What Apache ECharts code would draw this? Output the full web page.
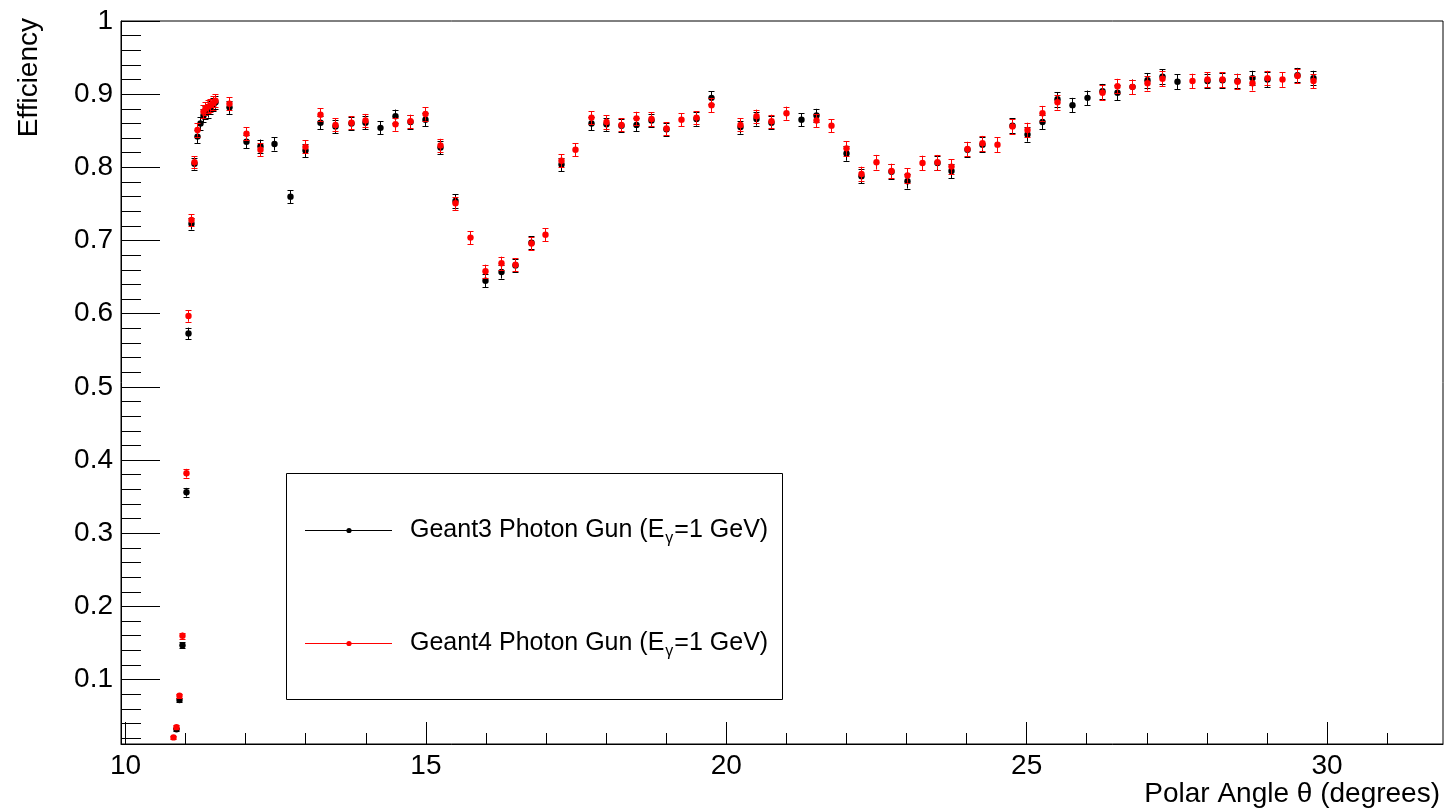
<!DOCTYPE html>
<html>
<head>
<meta charset="utf-8">
<title>Efficiency vs polar angle</title>
<script src="https://cdn.jsdelivr.net/npm/echarts@6.0.0/dist/echarts.min.js"></script>
<style>
  html, body { margin: 0; padding: 0; background: #fff; }
  #chart { width: 1449px; height: 812px; }
</style>
</head>
<body>
<div id="chart"></div>
<script>
// Geant3 photon gun (black)
var g3Theta = [10.84, 10.89, 10.94, 11.0, 11.04, 11.09, 11.14, 11.19, 11.24, 11.29,
    11.33, 11.37, 11.41, 11.45, 11.49, 11.73, 12.0, 12.24, 12.48, 12.74,
    12.98, 13.24, 13.49, 13.75, 13.99, 14.24, 14.49, 14.74, 14.99, 15.24,
    15.49, 15.99, 16.25, 16.49, 16.75, 17.25, 17.75, 18.0, 18.25, 18.5,
    18.75, 18.99, 19.49, 19.74, 20.23, 20.5, 20.74, 21.24, 21.5, 22.0,
    22.24, 22.75, 23.0, 23.5, 23.74, 24.0, 24.25, 24.75, 25.0, 25.25,
    25.5, 25.75, 26.0, 26.25, 26.5, 26.75, 27.0, 27.25, 27.5, 28.0,
    28.25, 28.5, 28.75, 29.0, 29.5, 29.76];
var g3Eff = [0.032, 0.072, 0.147, 0.356, 0.573, 0.723, 0.805, 0.842, 0.860, 0.871,
    0.875, 0.877, 0.882, 0.886, 0.889, 0.882, 0.835, 0.829, 0.832, 0.760,
    0.823, 0.861, 0.856, 0.860, 0.861, 0.854, 0.870, 0.862, 0.865, 0.827,
    0.754, 0.645, 0.657, 0.666, 0.697, 0.804, 0.860, 0.859, 0.857, 0.858,
    0.864, 0.852, 0.866, 0.895, 0.855, 0.866, 0.861, 0.865, 0.871, 0.819,
    0.788, 0.794, 0.781, 0.806, 0.795, 0.824, 0.831, 0.857, 0.845, 0.862,
    0.893, 0.885, 0.895, 0.904, 0.902, 0.910, 0.919, 0.924, 0.917, 0.918,
    0.919, 0.918, 0.922, 0.920, 0.926, 0.922];
var g3Err = [0.002, 0.003, 0.004, 0.006, 0.008, 0.008, 0.008, 0.009, 0.009, 0.009,
    0.009, 0.009, 0.009, 0.009, 0.009, 0.009, 0.009, 0.009, 0.009, 0.009,
    0.009, 0.009, 0.009, 0.009, 0.009, 0.009, 0.009, 0.009, 0.009, 0.009,
    0.009, 0.009, 0.009, 0.009, 0.009, 0.009, 0.009, 0.009, 0.009, 0.009,
    0.009, 0.009, 0.009, 0.009, 0.009, 0.009, 0.009, 0.009, 0.009, 0.010,
    0.010, 0.010, 0.010, 0.010, 0.010, 0.010, 0.010, 0.010, 0.010, 0.010,
    0.010, 0.010, 0.010, 0.010, 0.010, 0.010, 0.010, 0.010, 0.010, 0.010,
    0.010, 0.010, 0.010, 0.010, 0.010, 0.010];

// Geant4 photon gun (red)
var g4Theta = [10.79, 10.84, 10.89, 10.94, 11.0, 11.04, 11.09, 11.14, 11.19, 11.29,
    11.33, 11.37, 11.41, 11.45, 11.49, 11.73, 12.0, 12.24, 12.98, 13.24,
    13.49, 13.75, 13.99, 14.49, 14.74, 14.99, 15.24, 15.49, 15.74, 15.99,
    16.25, 16.49, 16.75, 16.99, 17.25, 17.49, 17.75, 18.0, 18.25, 18.5,
    18.75, 18.99, 19.25, 19.49, 19.74, 20.23, 20.5, 20.74, 21.0, 21.5,
    21.74, 22.0, 22.24, 22.5, 22.75, 23.0, 23.25, 23.5, 23.74, 24.0,
    24.25, 24.5, 24.75, 25.0, 25.25, 25.5, 26.25, 26.5, 26.75, 27.0,
    27.25, 27.75, 28.0, 28.25, 28.5, 28.75, 29.0, 29.25, 29.5, 29.76];
var g4Eff = [0.021, 0.035, 0.078, 0.160, 0.382, 0.597, 0.728, 0.807, 0.851, 0.876,
    0.880, 0.883, 0.885, 0.888, 0.891, 0.887, 0.846, 0.824, 0.828, 0.872,
    0.858, 0.861, 0.864, 0.859, 0.863, 0.873, 0.830, 0.751, 0.704, 0.658,
    0.669, 0.667, 0.696, 0.708, 0.809, 0.824, 0.868, 0.862, 0.858, 0.867,
    0.866, 0.853, 0.865, 0.868, 0.885, 0.858, 0.870, 0.863, 0.874, 0.864,
    0.857, 0.826, 0.791, 0.807, 0.795, 0.789, 0.806, 0.807, 0.801, 0.825,
    0.833, 0.831, 0.856, 0.851, 0.874, 0.889, 0.902, 0.911, 0.910, 0.915,
    0.921, 0.918, 0.920, 0.920, 0.917, 0.915, 0.922, 0.920, 0.925, 0.918];
var g4Err = [0.002, 0.003, 0.003, 0.004, 0.006, 0.008, 0.008, 0.008, 0.009, 0.009,
    0.009, 0.009, 0.009, 0.009, 0.009, 0.009, 0.009, 0.009, 0.009, 0.009,
    0.009, 0.009, 0.009, 0.009, 0.009, 0.009, 0.009, 0.009, 0.009, 0.009,
    0.009, 0.009, 0.009, 0.009, 0.009, 0.009, 0.009, 0.009, 0.009, 0.009,
    0.009, 0.009, 0.009, 0.009, 0.010, 0.009, 0.009, 0.009, 0.009, 0.009,
    0.009, 0.010, 0.010, 0.010, 0.010, 0.010, 0.010, 0.010, 0.010, 0.010,
    0.010, 0.010, 0.010, 0.010, 0.010, 0.010, 0.010, 0.010, 0.010, 0.010,
    0.010, 0.010, 0.010, 0.010, 0.010, 0.010, 0.010, 0.010, 0.010, 0.010];

// axis ticks
var xMajor = [10, 15, 20, 25, 30];
var xMinor = [10, 11, 12, 13, 14, 15, 16, 17, 18, 19, 20, 21, 22, 23, 24, 25, 26, 27, 28, 29, 30, 31];
var yMajor = [0.1, 0.2, 0.3, 0.4, 0.5, 0.6, 0.7, 0.8, 0.9, 1];
var yMinor = [0.02, 0.04, 0.06, 0.08, 0.12, 0.14, 0.16, 0.18, 0.22, 0.24, 0.26, 0.28,
    0.32, 0.34, 0.36, 0.38, 0.42, 0.44, 0.46, 0.48, 0.52, 0.54, 0.56, 0.58,
    0.62, 0.64, 0.66, 0.68, 0.72, 0.74, 0.76, 0.78, 0.82, 0.84, 0.86, 0.88,
    0.92, 0.94, 0.96, 0.98];

var FONT = '"Liberation Sans", Arial, Helvetica, sans-serif';
var xMin = 9.925, xMax = 31.93, yMin = 0.012, yMax = 1;

var chart = echarts.init(document.getElementById('chart'));

function errorSeries(name, xs, ys, es, color) {
    var data = xs.map(function (x, i) { return [x, ys[i], es[i]]; });
    return {
        name: name,
        type: 'custom',
        data: data,
        encode: { x: 0, y: 1 },
        renderItem: function (params, api) {
            var x = api.value(0), y = api.value(1), e = api.value(2);
            var c = api.coord([x, y]);
            var hi = api.coord([x, y + e]);
            var lo = api.coord([x, y - e]);
            var px = Math.round(c[0]) + 0.5;
            var st = { stroke: color, lineWidth: 1 };
            return {
                type: 'group',
                children: [
                    { type: 'line', shape: { x1: px, y1: hi[1], x2: px, y2: lo[1] }, style: st },
                    { type: 'line', shape: { x1: px - 3, y1: Math.round(hi[1]) + 0.5, x2: px + 3, y2: Math.round(hi[1]) + 0.5 }, style: st },
                    { type: 'line', shape: { x1: px - 3, y1: Math.round(lo[1]) + 0.5, x2: px + 3, y2: Math.round(lo[1]) + 0.5 }, style: st },
                    { type: 'circle', shape: { cx: px, cy: c[1], r: 3.2 }, style: { fill: color } }
                ]
            };
        }
    };
}

// legend text pieces are placed by measured widths (subscript gamma)
var mctx = document.createElement('canvas').getContext('2d');
function textWidth(s, size) {
    mctx.font = size + 'px ' + FONT;
    return mctx.measureText(s).width;
}
function legendRow(y, color, head) {
    var x0 = 410;
    var w1 = textWidth(head, 25);
    var xg = x0 + w1 + 1;
    var wg = textWidth('γ', 16);
    return [
        { type: 'line', z: 101, shape: { x1: 305, y1: y + 0.5, x2: 392, y2: y + 0.5 }, style: { stroke: color, lineWidth: 1 } },
        { type: 'circle', z: 102, shape: { cx: 349, cy: y + 0.5, r: 2.6 }, style: { fill: color } },
        { type: 'text', z: 102, x: x0, y: y, style: { text: head, font: '25px ' + FONT, fill: '#000', align: 'left', verticalAlign: 'middle' } },
        { type: 'text', z: 102, x: xg, y: y + 9, style: { text: 'γ', font: '16px ' + FONT, fill: '#000', align: 'left', verticalAlign: 'middle' } },
        { type: 'text', z: 102, x: xg + wg + 1, y: y, style: { text: '=1 GeV)', font: '25px ' + FONT, fill: '#000', align: 'left', verticalAlign: 'middle' } }
    ];
}

var graphics = [
    { type: 'rect', z: 100, shape: { x: 286.5, y: 473.5, width: 496, height: 226 }, style: { fill: '#fff', stroke: '#000', lineWidth: 1 } }
].concat(legendRow(530, '#000', 'Geant3 Photon Gun (E'))
 .concat(legendRow(643, '#ff0000', 'Geant4 Photon Gun (E'))
 .concat([
    { type: 'text', z: 102, x: 1440, y: 808, style: { text: 'Polar Angle θ (degrees)', font: '28px ' + FONT, fill: '#000', align: 'right', verticalAlign: 'bottom' } },
    { type: 'text', z: 102, x: 43, y: 18, rotation: Math.PI / 2, style: { text: 'Efficiency', font: '28px ' + FONT, fill: '#000', align: 'right', verticalAlign: 'bottom' } }
 ]);

var option = {
    animation: false,
    backgroundColor: '#fff',
    grid: {
        left: 121, right: 6, top: 21, bottom: 68,
        show: true, borderColor: '#000', borderWidth: 1,
        containLabel: false, outerBoundsMode: 'none'
    },
    xAxis: [
        {
            type: 'value', min: xMin, max: xMax,
            axisLine: { show: true, onZero: false, lineStyle: { color: '#000', width: 1 } },
            axisTick: { show: true, inside: true, length: 22, customValues: xMajor, lineStyle: { color: '#000' } },
            axisLabel: { customValues: xMajor, fontSize: 28, fontFamily: FONT, color: '#000', margin: 8 },
            splitLine: { show: false }
        },
        {
            type: 'value', min: xMin, max: xMax, position: 'bottom',
            axisLine: { show: false, onZero: false },
            axisTick: { show: true, inside: true, length: 11, customValues: xMinor, lineStyle: { color: '#000' } },
            axisLabel: { show: false, customValues: xMinor },
            splitLine: { show: false }
        }
    ],
    yAxis: [
        {
            type: 'value', min: yMin, max: yMax,
            axisLine: { show: true, onZero: false, lineStyle: { color: '#000', width: 1 } },
            axisTick: { show: true, inside: true, length: 39, customValues: yMajor, lineStyle: { color: '#000' } },
            axisLabel: {
                customValues: yMajor, fontSize: 28, fontFamily: FONT, color: '#000', margin: 8,
                formatter: function (v) { return String(v); }
            },
            splitLine: { show: false }
        },
        {
            type: 'value', min: yMin, max: yMax, position: 'left',
            axisLine: { show: false, onZero: false },
            axisTick: { show: true, inside: true, length: 20, customValues: yMinor, lineStyle: { color: '#000' } },
            axisLabel: { show: false, customValues: yMinor },
            splitLine: { show: false }
        }
    ],
    graphic: graphics,
    series: [
        errorSeries('Geant3 Photon Gun', g3Theta, g3Eff, g3Err, '#000'),
        errorSeries('Geant4 Photon Gun', g4Theta, g4Eff, g4Err, '#ff0000')
    ]
};

chart.setOption(option);
</script>
</body>
</html>
